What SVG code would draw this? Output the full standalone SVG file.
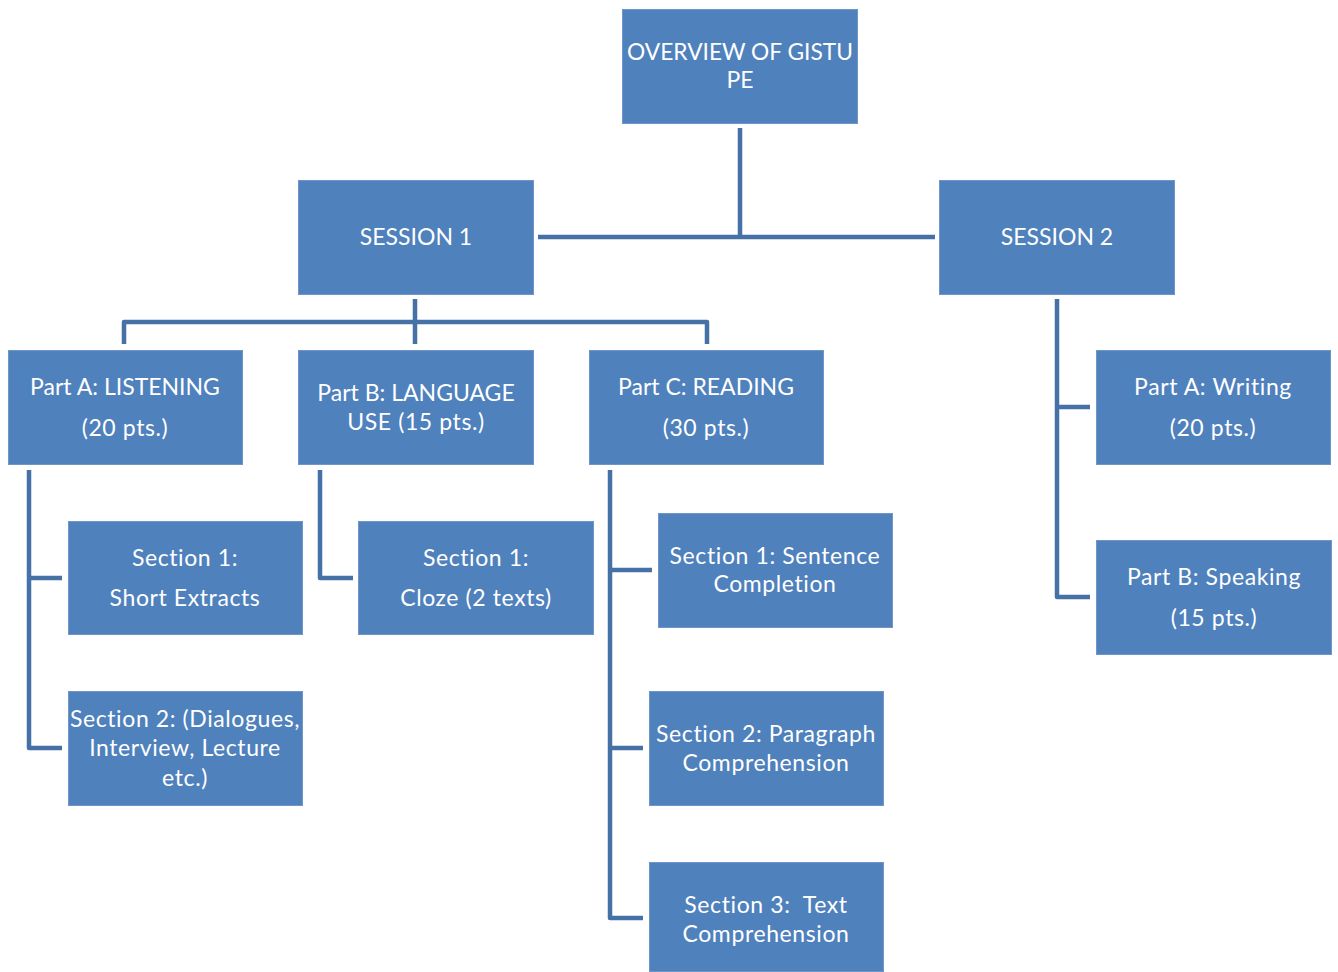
<svg xmlns="http://www.w3.org/2000/svg" width="1338" height="972" viewBox="0 0 1338 972">
<style>
.box{fill:#4F81BD;stroke:#7096C8;stroke-width:1}
.t{font-family:Lato,"Open Sans","Liberation Sans",sans-serif;font-size:23px;letter-spacing:0.6px;fill:#FFFFFF;text-anchor:middle;white-space:pre}
.caps{letter-spacing:0px}
.c{fill:none;stroke:#4671A6;stroke-width:4.5;stroke-linejoin:round}
</style>
<rect width="1338" height="972" fill="#FFFFFF"/>
<g id="connectors">
<path class="c" d="M740,128 V237 M538,237 H935"/>
<path class="c" d="M415,299 V344 M124,344 V322 H707 V344"/>
<path class="c" d="M29,470 V748 H62 M29,578 H62"/>
<path class="c" d="M320,470 V578 H353"/>
<path class="c" d="M610,470 V918 H643 M610,570 H652 M610,748 H643"/>
<path class="c" d="M1057,299 V597 H1090 M1057,407 H1090"/>
</g>
<g id="overview"><rect class="box" x="622.5" y="9.5" width="235" height="114"/><text class="t caps" x="740" y="60" textLength="226" lengthAdjust="spacingAndGlyphs">OVERVIEW OF GISTU</text><text class="t caps" x="740" y="88">PE</text></g>
<g id="session1"><rect class="box" x="298.5" y="180.5" width="235" height="114"/><text class="t caps" x="416" y="245">SESSION 1</text></g>
<g id="session2"><rect class="box" x="939.5" y="180.5" width="235" height="114"/><text class="t caps" x="1057" y="245">SESSION 2</text></g>
<g id="partA"><rect class="box" x="8.5" y="350.5" width="234" height="114"/><text class="t caps" x="125" y="395">Part A: LISTENING</text><text class="t" x="125" y="436">(20 pts.)</text></g>
<g id="partB"><rect class="box" x="298.5" y="350.5" width="235" height="114"/><text class="t caps" x="416" y="401">Part B: LANGUAGE</text><text class="t" x="416" y="430">USE (15 pts.)</text></g>
<g id="partC"><rect class="box" x="589.5" y="350.5" width="234" height="114"/><text class="t caps" x="706" y="395">Part C: READING</text><text class="t" x="706" y="436">(30 pts.)</text></g>
<g id="a-sec1"><rect class="box" x="68.5" y="521.5" width="234" height="113"/><text class="t" x="185" y="566">Section 1:</text><text class="t" x="185" y="606">Short Extracts</text></g>
<g id="a-sec2"><rect class="box" x="68.5" y="691.5" width="234" height="114"/><text class="t" x="185" y="727">Section 2: (Dialogues,</text><text class="t" x="185" y="756">Interview, Lecture</text><text class="t" x="185" y="786">etc.)</text></g>
<g id="b-sec1"><rect class="box" x="358.5" y="521.5" width="235" height="113"/><text class="t" x="476" y="566">Section 1:</text><text class="t" x="476" y="606">Cloze (2 texts)</text></g>
<g id="c-sec1"><rect class="box" x="658.5" y="513.5" width="234" height="114"/><text class="t" x="775" y="564">Section 1: Sentence</text><text class="t" x="775" y="592">Completion</text></g>
<g id="c-sec2"><rect class="box" x="649.5" y="691.5" width="234" height="114"/><text class="t" x="766" y="742">Section 2: Paragraph</text><text class="t" x="766" y="771">Comprehension</text></g>
<g id="c-sec3"><rect class="box" x="649.5" y="862.5" width="234" height="109"/><text class="t" x="766" y="913" xml:space="preserve">Section 3:  Text</text><text class="t" x="766" y="942">Comprehension</text></g>
<g id="s2-partA"><rect class="box" x="1096.5" y="350.5" width="234" height="114"/><text class="t" x="1213" y="395">Part A: Writing</text><text class="t" x="1213" y="436">(20 pts.)</text></g>
<g id="s2-partB"><rect class="box" x="1096.5" y="540.5" width="235" height="114"/><text class="t" x="1214" y="585">Part B: Speaking</text><text class="t" x="1214" y="626">(15 pts.)</text></g>
</svg>
